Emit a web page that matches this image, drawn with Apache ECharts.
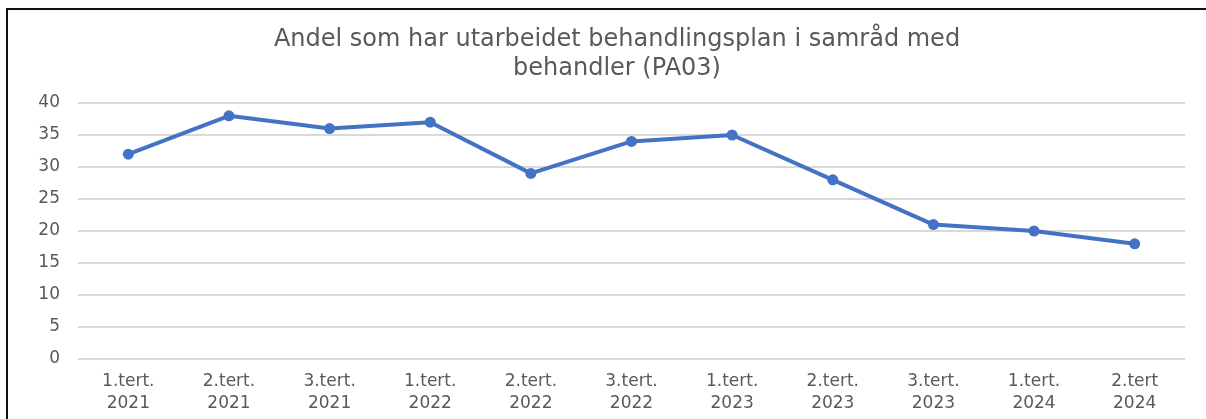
<!DOCTYPE html>
<html>
<head>
<meta charset="utf-8">
<script src="https://cdn.jsdelivr.net/npm/echarts@6/dist/echarts.min.js"></script>
<style>
  html, body { margin: 0; padding: 0; background: #fff; }
  #frame { position: absolute; left: 6px; top: 8px; width: 1200px; height: 411px;
           border-left: 2px solid #111; border-top: 2px solid #111; box-sizing: border-box; }
  #chart { position: absolute; left: 0; top: 0; width: 1206px; height: 419px; }
</style>
</head>
<body>
<div id="frame"></div>
<div id="chart"></div>
<script>
const titleText = 'Andel som har utarbeidet behandlingsplan i samråd med\nbehandler (PA03)';
const categories = ['1.tert.\n2021', '2.tert.\n2021', '3.tert.\n2021', '1.tert.\n2022', '2.tert.\n2022', '3.tert.\n2022', '1.tert.\n2023', '2.tert.\n2023', '3.tert.\n2023', '1.tert.\n2024', '2.tert\n2024'];
const values = [32, 38, 36, 37, 29, 34, 35, 28, 21, 20, 18];
const yMin = 0, yMax = 40, yStep = 5;

const chart = echarts.init(document.getElementById('chart'), null, { renderer: 'canvas' });
chart.setOption({
  backgroundColor: 'transparent',
  animation: false,
  title: {
    text: titleText,
    left: 612,
    top: 20,
    textAlign: 'center',
    textStyle: { fontFamily: 'DejaVu Sans', fontSize: 24, fontWeight: 'normal', color: '#595959', lineHeight: 29 }
  },
  grid: { left: 78, right: 21, top: 103, bottom: 60, containLabel: false },
  xAxis: {
    type: 'category',
    data: categories,
    boundaryGap: true,
    axisLine: { show: false },
    axisTick: { show: false },
    axisLabel: { color: '#595959', fontFamily: 'DejaVu Sans', fontSize: 17, lineHeight: 22, margin: 12, interval: 0 }
  },
  yAxis: {
    type: 'value',
    min: yMin, max: yMax, interval: yStep,
    axisLine: { show: false },
    axisTick: { show: false },
    axisLabel: { color: '#595959', fontFamily: 'DejaVu Sans', fontSize: 17, margin: 18 },
    splitLine: { lineStyle: { color: '#d9d9d9', width: 2 } }
  },
  series: [{
    type: 'line',
    data: values,
    symbol: 'circle',
    symbolSize: 11,
    lineStyle: { color: '#4472C4', width: 4 },
    itemStyle: { color: '#4472C4' }
  }]
});
</script>
</body>
</html>
